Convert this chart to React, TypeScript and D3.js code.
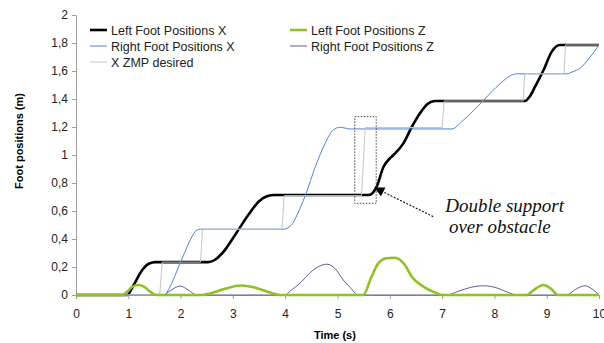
import React, { useEffect, useRef } from 'react';
import * as d3 from 'd3';

// [time (s), position (m)]
const leftFootX: [number, number][] = [
	[0, 0], [0.98, 0], [1.1, 0.07], [1.27, 0.18], [1.4, 0.225], [1.52, 0.235], [2.52, 0.235],
	[2.65, 0.25], [2.8, 0.3], [3.06, 0.44], [3.31, 0.58], [3.5, 0.67], [3.65, 0.705], [3.8, 0.714],
	[5.6, 0.714], [5.75, 0.774], [5.88, 0.916], [6.0, 0.975], [6.07, 1.0], [6.26, 1.083], [6.42, 1.2],
	[6.58, 1.3], [6.72, 1.365], [6.86, 1.386], [8.58, 1.386], [8.68, 1.42], [8.78, 1.49], [8.94, 1.607],
	[9.1, 1.74], [9.25, 1.786], [10, 1.786],
];
const leftFootZ: [number, number][] = [
	[0, 0], [0.88, 0], [0.98, 0.025], [1.08, 0.06], [1.19, 0.071], [1.3, 0.06], [1.43, 0.02], [1.53, 0],
	[2.4, 0], [2.6, 0.015], [2.85, 0.045], [3.15, 0.068], [3.4, 0.055], [3.65, 0.025], [3.9, 0],
	[5.49, 0], [5.65, 0.13], [5.78, 0.226], [5.94, 0.262], [6.1, 0.266], [6.29, 0.214], [6.42, 0.13],
	[6.64, 0.06], [6.9, 0.012], [7.0, 0], [8.62, 0], [8.75, 0.035], [8.94, 0.071], [9.08, 0.045],
	[9.22, 0], [10, 0],
];
const rightFootX: [number, number][] = [
	[0, 0], [1.68, 0], [1.8, 0.06], [1.91, 0.155], [2.04, 0.27], [2.2, 0.405], [2.3, 0.46], [2.38, 0.47],
	[3.98, 0.47], [4.05, 0.48], [4.14, 0.51], [4.26, 0.6], [4.4, 0.726], [4.57, 0.91], [4.76, 1.08],
	[4.92, 1.18], [5.05, 1.198], [5.24, 1.186], [7.18, 1.186], [7.41, 1.25], [7.79, 1.39], [8.11, 1.51],
	[8.3, 1.565], [8.43, 1.58], [9.38, 1.58], [9.5, 1.595], [9.64, 1.62], [9.83, 1.7], [10, 1.786],
];
const rightFootZ: [number, number][] = [
	[0, 0], [1.67, 0], [1.8, 0.03], [1.99, 0.064], [2.15, 0.035], [2.31, 0], [4.0, 0], [4.1, 0.03],
	[4.3, 0.09], [4.47, 0.157], [4.6, 0.195], [4.8, 0.22], [4.95, 0.19], [5.11, 0.107], [5.24, 0.055],
	[5.4, 0], [7.09, 0], [7.3, 0.025], [7.55, 0.055], [7.79, 0.066], [8.05, 0.05], [8.25, 0.02],
	[8.43, 0], [9.38, 0], [9.55, 0.04], [9.73, 0.066], [9.88, 0.04], [10, 0],
];
const zmpDesired: [number, number][] = [
	[0, 0], [1.6, 0], [1.65, 0.235], [2.38, 0.235], [2.42, 0.47], [3.94, 0.47], [3.98, 0.71],
	[5.46, 0.71], [5.53, 1.196], [7.0, 1.196], [7.04, 1.386], [8.55, 1.386], [8.58, 1.58],
	[9.33, 1.58], [9.36, 1.786], [10, 1.786],
];

const xTicks = [0, 1, 2, 3, 4, 5, 6, 7, 8, 9, 10];
const yTicks = [0, 0.2, 0.4, 0.6, 0.8, 1, 1.2, 1.4, 1.6, 1.8, 2];
const yTickLabels = ['0', '0,2', '0,4', '0,6', '0,8', '1', '1,2', '1,4', '1,6', '1,8', '2'];

// legend entries, in the order they sit in the figure
const legendLeft = ['Left Foot Positions X', 'Right Foot Positions X', 'X ZMP desired'];
const legendRight = ['Left Foot Positions Z', 'Right Foot Positions Z'];

// annotation box and arrow, in data units
const boxT = [5.33, 5.74];
const boxV = [0.655, 1.274];
const arrowFrom: [number, number] = [6.83, 0.56];
const arrowTo: [number, number] = [5.72, 0.765];
const noteLines = ['Double support', 'over obstacle'];

const width = 604;
const height = 343;
const margin = { top: 15, right: 5, bottom: 48, left: 76 };

const colors = {
	leftX: '#000000',
	leftZ: '#8dc21f',
	rightX: '#4f82dc',
	rightZ: '#5c5aa0',
	zmp: '#c4c4c4',
};

export default function App() {
	const node = useRef<SVGSVGElement>(null);

	useEffect(() => {
		const svg = d3.select(node.current);
		svg.selectAll('*').remove();
		svg.style('font-family', 'Arial, "Liberation Sans", sans-serif');

		const xScale = d3.scaleLinear().domain([0, 10]).range([margin.left, width - margin.right]);
		const yScale = d3.scaleLinear().domain([0, 2]).range([height - margin.bottom, margin.top]);

		// axes
		const yAxis = d3
			.axisLeft(yScale)
			.tickValues(yTicks)
			.tickSize(4)
			.tickPadding(4)
			.tickFormat((d, i) => yTickLabels[i]);
		const gy = svg.append('g').attr('transform', `translate(${margin.left},0)`).call(yAxis);
		gy.selectAll('text').style('font-size', '12px').attr('fill', '#222');

		const xAxis = d3
			.axisBottom(xScale)
			.tickValues(xTicks)
			.tickSize(4)
			.tickPadding(10)
			.tickFormat(d => String(d));
		const gx = svg
			.append('g')
			.attr('transform', `translate(0,${height - margin.bottom})`)
			.call(xAxis);
		gx.selectAll('text').style('font-size', '12px').attr('fill', '#222');
		svg.selectAll('.domain, .tick line').attr('stroke', '#a0a0a0');

		svg.append('text')
			.attr('transform', `translate(23,141) rotate(-90)`)
			.attr('text-anchor', 'middle')
			.style('font-size', '11px')
			.style('font-weight', 'bold')
			.text('Foot positions (m)');
		svg.append('text')
			.attr('x', xScale(4.95))
			.attr('y', 339)
			.attr('text-anchor', 'middle')
			.style('font-size', '11px')
			.style('font-weight', 'bold')
			.text('Time (s)');

		const line = d3
			.line<[number, number]>()
			.x(d => xScale(d[0]))
			.y(d => yScale(d[1]))
			.curve(d3.curveMonotoneX);
		const stepLine = d3
			.line<[number, number]>()
			.x(d => xScale(d[0]))
			.y(d => yScale(d[1]));

		// green Z curve drawn last so it stays on top along the zero line
		const series = [
			{ data: leftFootX, color: colors.leftX, w: 2.6, gen: line },
			{ data: rightFootX, color: colors.rightX, w: 1, gen: line },
			{ data: rightFootZ, color: colors.rightZ, w: 1, gen: line },
			{ data: zmpDesired, color: colors.zmp, w: 1, gen: stepLine },
			{ data: leftFootZ, color: colors.leftZ, w: 2.6, gen: line },
		];
		series.forEach(s => {
			svg.append('path')
				.attr('d', s.gen(s.data))
				.attr('fill', 'none')
				.attr('stroke', s.color)
				.attr('stroke-width', s.w)
				.attr('stroke-linejoin', 'round');
		});

		// legend
		const legendColorsLeft = [colors.leftX, colors.rightX, colors.zmp];
		const legendWidthsLeft = [2.6, 1, 1];
		legendLeft.forEach((label, i) => {
			const y = 30 + i * 16;
			svg.append('line')
				.attr('x1', 90).attr('x2', 107).attr('y1', y).attr('y2', y)
				.attr('stroke', legendColorsLeft[i])
				.attr('stroke-width', legendWidthsLeft[i]);
			svg.append('text')
				.attr('x', 111).attr('y', y + 4.5)
				.style('font-size', '12.5px')
				.attr('fill', '#222')
				.text(label);
		});
		const legendColorsRight = [colors.leftZ, colors.rightZ];
		const legendWidthsRight = [2.6, 1];
		legendRight.forEach((label, i) => {
			const y = 30 + i * 16;
			svg.append('line')
				.attr('x1', 290).attr('x2', 307).attr('y1', y).attr('y2', y)
				.attr('stroke', legendColorsRight[i])
				.attr('stroke-width', legendWidthsRight[i]);
			svg.append('text')
				.attr('x', 311).attr('y', y + 4.5)
				.style('font-size', '12.5px')
				.attr('fill', '#222')
				.text(label);
		});

		// annotation
		svg.append('rect')
			.attr('x', xScale(boxT[0]))
			.attr('y', yScale(boxV[1]))
			.attr('width', xScale(boxT[1]) - xScale(boxT[0]))
			.attr('height', yScale(boxV[0]) - yScale(boxV[1]))
			.attr('fill', 'none')
			.attr('stroke', '#444')
			.attr('stroke-width', 1)
			.attr('stroke-dasharray', '1.5,1.5');

		svg.append('defs')
			.append('marker')
			.attr('id', 'arrowhead')
			.attr('viewBox', '0 0 10 10')
			.attr('refX', 9)
			.attr('refY', 5)
			.attr('markerWidth', 12)
			.attr('markerHeight', 10)
			.attr('markerUnits', 'userSpaceOnUse')
			.attr('orient', 'auto')
			.append('path')
			.attr('d', 'M0,0 L10,5 L0,10 Z')
			.attr('fill', '#000');
		svg.append('line')
			.attr('x1', xScale(arrowFrom[0]))
			.attr('y1', yScale(arrowFrom[1]))
			.attr('x2', xScale(arrowTo[0]))
			.attr('y2', yScale(arrowTo[1]))
			.attr('stroke', '#222')
			.attr('stroke-width', 1.2)
			.attr('stroke-dasharray', '2,1.5')
			.attr('marker-end', 'url(#arrowhead)');

		noteLines.forEach((t, i) => {
			svg.append('text')
				.attr('x', xScale(i === 0 ? 7.06 : 7.13))
				.attr('y', yScale(i === 0 ? 0.595 : 0.44))
				.style('font-family', '"Liberation Serif", "DejaVu Serif", serif')
				.style('font-style', 'italic')
				.style('font-size', '19px')
				.attr('fill', '#111')
				.text(t);
		});
	}, []);

	return (
		<div style={{ position: 'absolute', left: 0, top: 0 }}>
			<svg ref={node} width={width} height={height} style={{ display: 'block', background: '#fff' }} />
		</div>
	);
}
